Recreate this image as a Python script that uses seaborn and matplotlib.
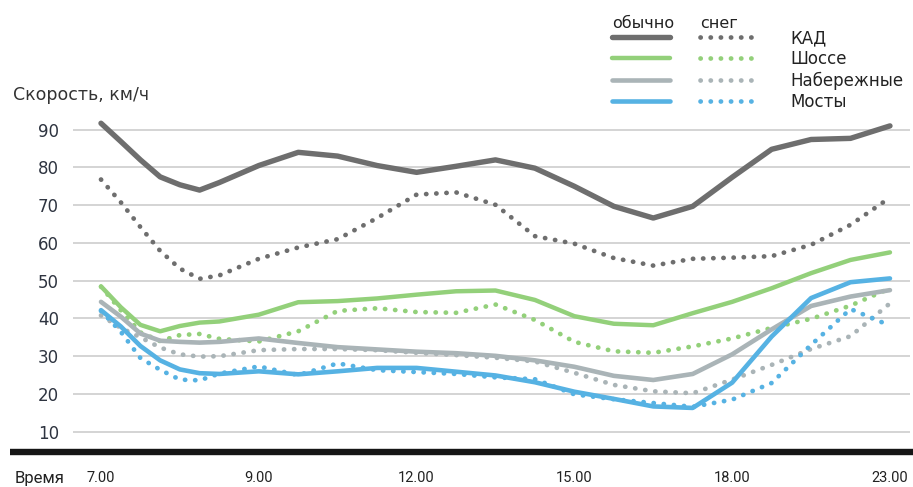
import matplotlib
matplotlib.use("Agg")
import matplotlib.pyplot as plt
from matplotlib.lines import Line2D
from matplotlib.legend_handler import HandlerTuple
from matplotlib import font_manager
import pandas as pd
import seaborn as sns

# Positions along the time axis, in tick units (ticks are evenly spaced although the hours are not)
pos = [0, 0.125, 0.25, 0.375, 0.5, 0.625, 0.75, 1, 1.25, 1.5, 1.75, 2, 2.25, 2.5,
       2.75, 3, 3.25, 3.5, 3.75, 4, 4.25, 4.5, 4.75, 5]
time_labels = ["7.00", "9.00", "12.00", "15.00", "18.00", "23.00"]
speed_ticks = [10, 20, 30, 40, 50, 60, 70, 80, 90]

roads = ["КАД", "Шоссе", "Набережные", "Мосты"]
conditions = ["обычно", "снег"]

# Average speed, km/h
kad_normal = [91.7, 86.9, 82, 77.5, 75.4, 74, 76, 80.5, 84, 83, 80.5, 78.7, 80.3, 82,
              79.8, 75, 69.7, 66.6, 69.7, 77.4, 84.8, 87.4, 87.7, 91]
kad_snow = [76.8, 70.8, 64.2, 57.9, 53.2, 50.5, 51.4, 55.8, 58.8, 61, 66.6, 72.8, 73.4,
            70.1, 61.8, 59.8, 56, 54, 55.8, 56.1, 56.5, 59.5, 64.8, 72]
shosse_normal = [48.5, 43, 38.3, 36.6, 38, 38.9, 39.2, 41, 44.3, 44.6, 45.3, 46.3, 47.2,
                 47.4, 44.9, 40.6, 38.6, 38.2, 41.4, 44.4, 48, 52, 55.5, 57.5]
shosse_snow = [48.4, 42.2, 36.3, 34, 35.6, 35.9, 34.6, 33.9, 36.6, 42, 42.7, 41.7, 41.5,
               43.7, 39.6, 33.8, 31.3, 30.9, 32.6, 34.7, 37.5, 39.9, 43.4, 48]
nab_normal = [44.4, 40.5, 36, 34.1, 33.8, 33.6, 33.8, 34.7, 33.5, 32.4, 31.8, 31.2, 30.8,
              30.1, 28.9, 27.2, 24.8, 23.7, 25.3, 30.5, 37.1, 43.3, 45.8, 47.5]
nab_snow = [40.8, 37.5, 35, 32.3, 30.5, 29.9, 30, 31.6, 31.9, 31.9, 31.6, 30.9, 30.3,
            29.6, 28.6, 25.6, 22.4, 20.7, 20.2, 23.8, 27.7, 31.9, 35.3, 44]
most_normal = [42.2, 37.9, 32.7, 28.9, 26.5, 25.5, 25.3, 26, 25.2, 26, 26.9, 26.9, 25.9,
               24.9, 23.1, 20.6, 18.7, 16.7, 16.3, 23, 35.2, 45.4, 49.6, 50.6]
most_snow = [42, 36.5, 29.5, 26.4, 23.8, 23.6, 25.4, 27.3, 25, 28.1, 26.3, 25.8, 25.3,
             24.4, 23.9, 19.9, 18.6, 17.6, 16.6, 18.5, 22.9, 33, 42.5, 38.1]

series = {
    ("КАД", "обычно"): kad_normal, ("КАД", "снег"): kad_snow,
    ("Шоссе", "обычно"): shosse_normal, ("Шоссе", "снег"): shosse_snow,
    ("Набережные", "обычно"): nab_normal, ("Набережные", "снег"): nab_snow,
    ("Мосты", "обычно"): most_normal, ("Мосты", "снег"): most_snow,
}
rows = []
for (road, cond), vals in series.items():
    for p, v in zip(pos, vals):
        rows.append({"pos": p, "speed": v, "road": road, "cond": cond})
df = pd.DataFrame(rows)

colors = {"КАД": "#6e6e6e", "Шоссе": "#93d07a", "Набережные": "#aab4b7", "Мосты": "#56b2e3"}
solid_lw = {"КАД": 3.9, "Шоссе": 3.2, "Набережные": 3.3, "Мосты": 3.3}

sns.set_theme(style="white")
plt.rcParams["font.family"] = ["DejaVu Sans"]
plt.rcParams["lines.solid_capstyle"] = "round"
plt.rcParams["lines.dash_capstyle"] = "round"
plt.rcParams["lines.solid_joinstyle"] = "round"

available = {f.name for f in font_manager.fontManager.ttflist}
narrow = "Liberation Sans Narrow" if "Liberation Sans Narrow" in available else "Roboto"

W, H = 913, 487
fig = plt.figure(figsize=(W / 100, H / 100), dpi=100)
fig.patch.set_facecolor("white")

# axes frame: x from px 73 to 910, speed 95 at px 110.8, speed 5 at px 450.6
ax = fig.add_axes([73 / W, 1 - 450.6 / H, (910 - 73) / W, (450.6 - 110.8) / H])
ax.set_facecolor("white")

for y in speed_ticks:
    ax.axhline(y, color="#cdcdcd", lw=1.2, zorder=0)

handles = {}
for road in roads:
    for cond in conditions:
        sub = df[(df.road == road) & (df.cond == cond)]
        if cond == "обычно":
            sns.lineplot(data=sub, x="pos", y="speed", ax=ax, color=colors[road],
                         lw=solid_lw[road], estimator=None, sort=False, zorder=3)
        else:
            sns.lineplot(data=sub, x="pos", y="speed", ax=ax, color=colors[road],
                         lw=3.4, estimator=None, sort=False, zorder=2,
                         dashes=False)
            ax.lines[-1].set_dashes((0.05, 2.1))
        handles[(road, cond)] = ax.lines[-1]

ax.set_xlim(-0.1774, 5.127)
ax.set_ylim(5, 95)
ax.set_xticks(range(len(time_labels)))
ax.set_xticklabels(time_labels, fontfamily=narrow, fontsize=10.5, color="#222222")
ax.set_yticks(speed_ticks)
ax.set_yticklabels([str(v) for v in speed_ticks], fontsize=12, color="#2e3440")
ax.tick_params(axis="x", length=0, pad=15)
ax.tick_params(axis="y", length=0, pad=10)
ax.set_xlabel("")
ax.set_ylabel("")
for s in ax.spines.values():
    s.set_visible(False)

# heavy baseline under the plot area
fig.add_artist(Line2D([10 / W, 1.0], [1 - 452 / H, 1 - 452 / H], color="#161616",
                      lw=4.6, solid_capstyle="butt", transform=fig.transFigure))

fig.text(13 / W, 1 - 95 / H, "Скорость, км/ч", fontsize=12.5, color="#333333",
         ha="left", va="center")
fig.text(15 / W, 1 - 478 / H, "Время", fontsize=12, fontfamily=narrow,
         color="#222222", ha="left", va="center")

# legend: solid (обычно) and dotted (снег) sample for each road
fig.text(612 / W, 1 - 23 / H, "обычно", fontsize=11.5, color="#222222", ha="left", va="center")
fig.text(700 / W, 1 - 23 / H, "снег", fontsize=11.5, color="#222222", ha="left", va="center")

leg_handles = []
for road in roads:
    s = Line2D([], [], color=colors[road], lw=solid_lw[road])
    d = Line2D([], [], color=colors[road], lw=3.4)
    d.set_dashes((0.05, 2.1))
    leg_handles.append((s, d))
fig.legend(leg_handles, roads, loc="upper left", bbox_to_anchor=(612 / W, 1 - 29 / H),
           frameon=False, borderpad=0, borderaxespad=0, fontsize=12,
           handlelength=8.7, handletextpad=2.0, labelspacing=0.2,
           handler_map={tuple: HandlerTuple(ndivide=None, pad=1.8)},
           labelcolor="#222222")

fig.savefig("out.png", dpi=100, facecolor="white")
